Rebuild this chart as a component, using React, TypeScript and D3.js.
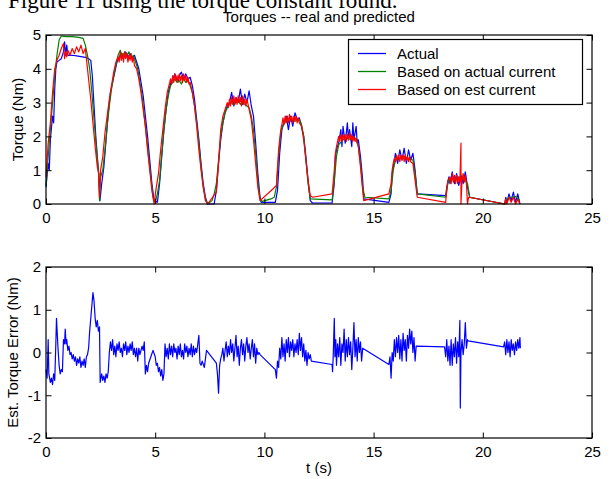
import { useEffect, useRef } from "react";
import * as d3 from "d3";

const FONT = "'Liberation Sans', Arial, Helvetica, sans-serif";

// tick labels
const tickT = [0, 5, 10, 15, 20, 25];
const tickTorque = [0, 1, 2, 3, 4, 5];
const tickErr = [-2, -1, 0, 1, 2];

const legendLabels = ["Actual", "Based on actual current", "Based on est current"];
const seriesColors = ["#0000ff", "#008000", "#ff0000"];

// [t (s), torque (Nm)]
const actual = [
  [0.0, 0.5], [0.1, 1.2], [0.15, 1.0], [0.2, 1.9], [0.3, 2.6], [0.35, 2.4], [0.4, 3.4], [0.45, 4.0], [0.5, 4.2],
  [0.6, 4.25], [0.7, 4.3], [0.8, 4.5], [0.85, 4.8], [0.9, 4.4], [0.95, 4.7], [1.0, 4.4], [1.2, 4.4], [1.4, 4.38],
  [1.6, 4.36], [1.8, 4.34], [1.95, 4.3], [2.05, 4.25], [2.12, 3.8], [2.2, 2.9], [2.28, 2.0], [2.35, 1.4], [2.42, 0.8],
  [2.47, 0.1], [2.55, 0.6], [2.65, 1.1], [2.75, 1.9], [2.85, 2.7], [2.95, 3.3], [3.05, 3.6], [3.15, 3.9], [3.25, 4.2],
  [3.35, 4.35], [3.45, 4.45], [3.55, 4.3], [3.65, 4.5], [3.75, 4.35], [3.85, 4.45], [3.95, 4.3], [4.05, 4.4],
  [4.15, 4.2], [4.25, 4.0], [4.35, 3.6], [4.45, 3.2], [4.55, 2.6], [4.65, 2.0], [4.75, 1.3], [4.85, 0.6], [4.95, 0.1],
  [5.1, 0.05], [5.2, 0.6], [5.3, 1.4], [5.4, 2.2], [5.5, 2.8], [5.6, 3.3], [5.7, 3.55], [5.8, 3.7], [5.9, 3.85],
  [6.0, 3.65], [6.1, 3.8], [6.2, 3.9], [6.3, 3.7], [6.4, 3.85], [6.5, 3.7], [6.6, 3.75], [6.7, 3.5], [6.8, 3.1],
  [6.9, 2.5], [7.0, 1.9], [7.1, 1.2], [7.2, 0.6], [7.3, 0.2], [7.4, 0.0], [7.7, 0.0], [7.8, 0.4], [7.9, 1.2],
  [8.0, 1.9], [8.1, 2.4], [8.2, 2.7], [8.3, 2.9], [8.4, 3.0], [8.5, 3.3], [8.6, 2.9], [8.7, 3.15], [8.8, 3.0],
  [8.9, 3.4], [9.0, 2.95], [9.1, 3.25], [9.2, 3.0], [9.3, 3.35], [9.4, 2.9], [9.5, 2.6], [9.6, 1.8], [9.7, 0.9],
  [9.8, 0.2], [9.85, 0.05], [10.5, 0.05], [10.6, 0.4], [10.7, 1.5], [10.8, 2.2], [10.9, 2.4], [11.0, 2.6],
  [11.1, 2.2], [11.2, 2.6], [11.3, 2.3], [11.4, 2.7], [11.5, 2.5], [11.6, 2.55], [11.7, 2.3], [11.8, 2.0],
  [11.9, 1.4], [12.0, 0.7], [12.1, 0.1], [12.2, 0.03], [13.1, 0.03], [13.2, 0.6], [13.25, 1.4], [13.3, 1.6],
  [13.4, 1.8], [13.5, 2.2], [13.55, 1.7], [13.6, 2.3], [13.7, 1.8], [13.8, 2.4], [13.85, 1.9], [13.9, 2.2],
  [14.0, 1.7], [14.05, 2.4], [14.1, 1.9], [14.2, 2.3], [14.25, 1.8], [14.3, 1.9], [14.4, 1.4], [14.5, 0.7],
  [14.55, 0.15], [15.7, 0.05], [15.8, 0.3], [15.85, 0.9], [15.9, 1.1], [16.0, 1.5], [16.1, 1.2], [16.2, 1.6],
  [16.3, 1.3], [16.4, 1.65], [16.5, 1.2], [16.6, 1.6], [16.7, 1.3], [16.8, 1.5], [16.9, 1.0], [17.0, 0.3],
  [18.3, 0.25], [18.35, 0.5], [18.45, 0.8], [18.5, 0.6], [18.6, 0.95], [18.7, 0.6], [18.8, 0.9], [18.9, 0.55],
  [19.0, 0.85], [19.1, 0.6], [19.2, 0.95], [19.3, 0.5], [19.4, 0.2], [21.0, 0.0], [21.05, 0.2], [21.1, 0.05],
  [21.2, 0.3], [21.3, 0.1], [21.4, 0.35], [21.5, 0.05], [21.6, 0.3], [21.7, 0.0],
];

const basedOnActual = [
  [0.0, 0.55], [0.1, 1.4], [0.2, 2.2], [0.3, 3.0], [0.4, 3.8], [0.5, 4.4], [0.6, 4.85], [0.7, 4.97], [0.9, 4.95],
  [1.2, 4.95], [1.5, 4.93], [1.7, 4.9], [1.8, 4.7], [1.9, 4.4], [2.0, 4.0], [2.1, 3.3], [2.2, 2.5], [2.3, 1.7],
  [2.4, 1.0], [2.45, 0.1], [2.5, 0.8], [2.6, 1.0], [2.7, 1.6], [2.8, 2.3], [2.9, 2.9], [3.0, 3.4], [3.1, 3.8],
  [3.2, 4.1], [3.3, 4.4], [3.4, 4.55], [3.5, 4.35], [3.6, 4.5], [3.7, 4.4], [3.8, 4.5], [3.9, 4.3], [4.0, 4.4],
  [4.1, 4.2], [4.2, 4.0], [4.3, 3.6], [4.4, 3.2], [4.5, 2.6], [4.6, 2.0], [4.7, 1.4], [4.8, 0.8], [4.9, 0.2],
  [5.0, 0.05], [5.1, 0.3], [5.2, 0.7], [5.3, 1.5], [5.4, 2.2], [5.5, 2.8], [5.6, 3.2], [5.7, 3.5], [5.8, 3.6],
  [5.9, 3.7], [6.0, 3.6], [6.1, 3.65], [6.2, 3.55], [6.3, 3.7], [6.4, 3.6], [6.5, 3.65], [6.6, 3.5], [6.7, 3.3],
  [6.8, 2.9], [6.9, 2.4], [7.0, 1.8], [7.1, 1.1], [7.2, 0.5], [7.3, 0.15], [7.4, 0.0], [7.6, 0.1], [7.7, 0.3],
  [7.8, 0.6], [7.9, 1.3], [8.0, 2.0], [8.1, 2.4], [8.2, 2.7], [8.3, 2.85], [8.4, 2.95], [8.5, 3.0], [8.6, 2.95],
  [8.7, 3.0], [8.8, 3.05], [8.9, 2.95], [9.0, 3.0], [9.1, 2.95], [9.2, 2.9], [9.3, 2.85], [9.4, 2.6], [9.5, 2.2],
  [9.6, 1.5], [9.7, 0.7], [9.8, 0.15], [9.9, 0.08], [10.3, 0.15], [10.45, 0.2], [10.55, 0.5], [10.65, 1.4],
  [10.75, 2.1], [10.85, 2.35], [11.0, 2.45], [11.2, 2.5], [11.4, 2.45], [11.6, 2.5], [11.7, 2.35], [11.8, 2.0],
  [11.9, 1.3], [12.0, 0.6], [12.1, 0.15], [13.1, 0.12], [13.2, 0.7], [13.3, 1.4], [13.4, 1.75], [13.6, 1.9],
  [13.8, 1.95], [14.0, 1.9], [14.2, 1.95], [14.3, 1.7], [14.4, 1.2], [14.5, 0.5], [14.6, 0.2], [15.7, 0.15],
  [15.8, 0.4], [15.9, 1.0], [16.0, 1.3], [16.2, 1.35], [16.4, 1.4], [16.6, 1.35], [16.8, 1.3], [16.9, 0.9],
  [17.0, 0.3], [18.3, 0.2], [18.4, 0.6], [18.5, 0.75], [18.7, 0.7], [18.9, 0.8], [19.1, 0.75], [19.3, 0.6],
  [19.4, 0.2], [21.0, 0.0], [21.1, 0.15], [21.3, 0.2], [21.5, 0.22], [21.7, 0.1],
];

const basedOnEst = [
  [0.0, 0.8], [0.1, 1.8], [0.2, 2.4], [0.3, 3.3], [0.4, 4.0], [0.5, 4.25], [0.6, 4.4], [0.7, 4.6], [0.8, 4.75],
  [0.85, 4.3], [0.9, 4.5], [0.95, 4.35], [1.0, 4.55], [1.1, 4.4], [1.2, 4.6], [1.3, 4.45], [1.4, 4.65], [1.5, 4.5],
  [1.6, 4.7], [1.7, 4.45], [1.8, 4.6], [1.85, 4.3], [1.95, 3.7], [2.05, 3.1], [2.15, 2.4], [2.25, 1.7], [2.35, 1.1],
  [2.42, 0.9], [2.45, 0.2], [2.5, 1.0], [2.6, 1.4], [2.7, 2.1], [2.8, 2.6], [2.9, 3.1], [3.0, 3.5], [3.1, 3.9],
  [3.2, 4.2], [3.3, 4.35], [3.35, 4.2], [3.4, 4.5], [3.45, 4.25], [3.5, 4.45], [3.55, 4.2], [3.6, 4.5],
  [3.65, 4.3], [3.7, 4.45], [3.75, 4.2], [3.8, 4.4], [3.85, 4.25], [3.9, 4.45], [3.95, 4.2], [4.0, 4.35],
  [4.05, 4.1], [4.15, 4.0], [4.25, 3.7], [4.35, 3.3], [4.45, 2.8], [4.55, 2.3], [4.65, 1.6], [4.75, 1.0],
  [4.85, 0.4], [4.95, 0.0], [5.05, 0.5], [5.15, 0.9], [5.25, 1.6], [5.35, 2.2], [5.45, 2.8], [5.55, 3.3],
  [5.65, 3.55], [5.7, 3.7], [5.75, 3.55], [5.8, 3.8], [5.85, 3.6], [5.9, 3.85], [5.95, 3.65], [6.0, 3.8],
  [6.05, 3.6], [6.1, 3.85], [6.15, 3.65], [6.2, 3.8], [6.25, 3.6], [6.3, 3.85], [6.35, 3.65], [6.4, 3.8],
  [6.45, 3.6], [6.5, 3.75], [6.55, 3.55], [6.6, 3.6], [6.7, 3.3], [6.8, 2.9], [6.9, 2.3], [7.0, 1.6], [7.1, 1.0],
  [7.2, 0.5], [7.3, 0.1], [7.4, 0.0], [7.8, 0.35], [7.9, 1.2], [8.0, 2.2], [8.1, 2.6], [8.2, 2.8], [8.3, 3.0],
  [8.35, 2.85], [8.4, 3.1], [8.45, 2.9], [8.5, 3.15], [8.55, 2.95], [8.6, 3.2], [8.65, 2.95], [8.7, 3.15],
  [8.75, 2.95], [8.8, 3.2], [8.85, 3.0], [8.9, 3.15], [8.95, 2.9], [9.0, 3.2], [9.05, 2.95], [9.1, 3.1],
  [9.15, 2.9], [9.2, 3.1], [9.3, 2.8], [9.4, 2.5], [9.5, 1.9], [9.6, 1.2], [9.7, 0.5], [9.8, 0.1], [10.4, 0.45],
  [10.55, 0.55], [10.65, 1.6], [10.75, 2.2], [10.8, 2.35], [10.85, 2.55], [10.9, 2.35], [10.95, 2.6], [11.0, 2.4],
  [11.05, 2.6], [11.1, 2.4], [11.15, 2.65], [11.2, 2.45], [11.25, 2.6], [11.3, 2.4], [11.35, 2.6], [11.4, 2.45],
  [11.45, 2.6], [11.5, 2.4], [11.55, 2.55], [11.6, 2.4], [11.7, 2.3], [11.8, 1.9], [11.9, 1.3], [12.0, 0.7],
  [12.1, 0.25], [12.2, 0.2], [13.1, 0.3], [13.2, 1.0], [13.25, 1.5], [13.3, 1.7], [13.35, 1.85], [13.4, 2.0],
  [13.45, 1.85], [13.5, 2.05], [13.55, 1.85], [13.6, 2.05], [13.65, 1.9], [13.7, 2.05], [13.75, 1.85],
  [13.8, 2.05], [13.85, 1.9], [13.9, 2.1], [13.95, 1.9], [14.0, 2.05], [14.05, 1.85], [14.1, 2.0], [14.15, 1.85],
  [14.2, 1.95], [14.3, 1.7], [14.4, 1.1], [14.5, 0.4], [14.55, 0.1], [15.7, 0.3], [15.8, 0.6], [15.85, 1.0],
  [15.9, 1.2], [15.95, 1.35], [16.0, 1.25], [16.05, 1.45], [16.1, 1.3], [16.15, 1.45], [16.2, 1.25], [16.25, 1.45],
  [16.3, 1.3], [16.35, 1.45], [16.4, 1.25], [16.45, 1.45], [16.5, 1.3], [16.55, 1.4], [16.6, 1.25], [16.65, 1.4],
  [16.7, 1.25], [16.8, 1.2], [16.9, 0.7], [17.0, 0.2], [18.3, 0.05], [18.35, 0.4], [18.4, 0.7], [18.5, 0.8],
  [18.55, 0.6], [18.6, 0.9], [18.65, 0.65], [18.7, 0.85], [18.75, 0.6], [18.8, 0.85], [18.85, 0.6], [18.9, 0.8],
  [18.95, 0.65], [19.0, 1.8], [19.0, 0.0], [19.05, 0.7], [19.1, 0.9], [19.15, 0.65], [19.2, 0.85], [19.25, 0.6],
  [19.3, 0.0], [19.35, 0.2], [21.0, 0.0], [21.05, 0.15], [21.1, 0.0], [21.2, 0.2], [21.3, 0.05], [21.4, 0.2],
  [21.5, 0.0], [21.6, 0.15], [21.7, 0.0],
];

// [t (s), estimated torque error (Nm)]
const estError = [
  [0.0, -0.4], [0.05, -0.6], [0.1, 0.3], [0.13, -0.5], [0.2, -0.7], [0.25, -0.6], [0.3, -0.75], [0.35, -0.5],
  [0.4, -0.65], [0.45, 0.2], [0.48, 0.8], [0.52, 0.4], [0.55, 0.1], [0.6, -0.3], [0.65, -0.5], [0.7, -0.4],
  [0.75, -0.45], [0.8, 0.3], [0.85, 0.2], [0.88, 0.55], [0.92, 0.2], [0.95, 0.3], [1.0, 0.05], [1.05, 0.15],
  [1.1, -0.05], [1.15, 0.0], [1.2, -0.15], [1.25, -0.05], [1.3, -0.2], [1.35, -0.1], [1.4, -0.3], [1.45, -0.15],
  [1.5, -0.25], [1.55, -0.1], [1.6, -0.35], [1.65, -0.2], [1.7, -0.3], [1.75, -0.15], [1.8, -0.35], [1.85, -0.1],
  [1.9, -0.05], [1.95, 0.1], [2.0, 0.5], [2.05, 0.8], [2.1, 1.1], [2.15, 1.4], [2.2, 1.2], [2.25, 0.8], [2.3, 0.6],
  [2.35, 0.75], [2.4, 0.5], [2.45, 0.6], [2.48, -0.7], [2.55, -0.5], [2.6, -0.65], [2.65, -0.55], [2.7, -0.7],
  [2.75, -0.5], [2.8, -0.6], [2.85, -0.45], [2.9, 0.0], [2.95, 0.25], [3.0, 0.05], [3.05, 0.3], [3.1, -0.05],
  [3.15, 0.15], [3.2, -0.1], [3.25, 0.2], [3.3, 0.05], [3.35, 0.25], [3.4, 0.0], [3.45, 0.1], [3.5, -0.1],
  [3.55, 0.2], [3.6, 0.05], [3.65, 0.25], [3.7, -0.05], [3.75, 0.15], [3.8, 0.0], [3.85, 0.2], [3.9, 0.05],
  [3.95, 0.25], [4.0, -0.05], [4.05, 0.1], [4.1, -0.1], [4.15, 0.1], [4.2, -0.2], [4.25, 0.1], [4.3, -0.05],
  [4.4, 0.15], [4.45, 0.05], [4.5, 0.25], [4.55, -0.5], [4.6, -0.3], [4.65, -0.45], [4.7, -0.25], [4.8, -0.1],
  [4.9, 0.05], [5.0, -0.1], [5.05, -0.3], [5.1, -0.25], [5.15, -0.45], [5.2, -0.35], [5.25, -0.55], [5.3, -0.4],
  [5.35, -0.65], [5.4, -0.5], [5.45, 0.2], [5.5, -0.1], [5.55, 0.1], [5.6, -0.15], [5.65, 0.2], [5.7, -0.05],
  [5.75, 0.15], [5.8, -0.1], [5.85, 0.2], [5.9, 0.0], [5.95, 0.1], [6.0, -0.15], [6.05, 0.15], [6.1, -0.05],
  [6.15, 0.2], [6.2, -0.1], [6.25, 0.05], [6.3, -0.15], [6.35, 0.2], [6.4, 0.0], [6.45, 0.15], [6.5, -0.1],
  [6.55, 0.1], [6.6, -0.05], [6.65, 0.2], [6.7, -0.1], [6.75, 0.15], [6.8, -0.05], [6.85, 0.1], [6.9, 0.0],
  [6.95, 0.2], [7.0, 0.4], [7.05, -0.25], [7.1, -0.3], [7.15, -0.2], [7.25, -0.35], [7.3, -0.15], [7.35, 0.05],
  [7.8, -0.25], [7.85, -0.5], [7.9, -0.95], [7.95, -0.3], [8.0, -0.15], [8.05, -0.05], [8.1, 0.1], [8.15, -0.2],
  [8.2, 0.05], [8.25, 0.25], [8.3, -0.1], [8.35, 0.15], [8.4, -0.05], [8.45, 0.3], [8.5, 0.0], [8.55, 0.2],
  [8.6, -0.2], [8.65, 0.1], [8.7, 0.4], [8.75, -0.1], [8.8, 0.15], [8.85, -0.3], [8.9, 0.1], [8.95, 0.3],
  [9.0, -0.05], [9.05, 0.2], [9.1, -0.2], [9.15, 0.15], [9.2, 0.35], [9.25, 0.0], [9.3, 0.2], [9.35, -0.15],
  [9.4, 0.1], [9.45, 0.3], [9.5, -0.1], [9.55, 0.2], [9.6, -0.25], [9.65, 0.1], [9.7, -0.05], [9.75, 0.0],
  [9.8, -0.05], [10.5, -0.4], [10.55, -0.6], [10.6, -0.2], [10.65, -0.35], [10.7, 0.1], [10.75, -0.15],
  [10.8, 0.35], [10.85, -0.1], [10.9, 0.2], [10.95, -0.2], [11.0, 0.3], [11.05, 0.0], [11.1, 0.35], [11.15, -0.1],
  [11.2, 0.25], [11.25, 0.05], [11.3, 0.3], [11.35, -0.1], [11.4, 0.2], [11.45, 0.0], [11.5, 0.3], [11.55, -0.05],
  [11.6, 0.45], [11.65, 0.05], [11.7, 0.35], [11.75, -0.1], [11.8, 0.2], [11.85, -0.2], [11.9, 0.05],
  [11.95, -0.3], [12.0, 0.0], [12.05, -0.15], [12.1, -0.05], [12.15, -0.2], [13.1, -0.28], [13.12, -0.45],
  [13.15, -0.1], [13.2, 0.8], [13.23, -0.1], [13.27, 0.3], [13.3, -0.3], [13.35, 0.2], [13.4, -0.1], [13.45, 0.35],
  [13.5, -0.3], [13.55, 0.2], [13.6, 0.0], [13.65, 0.55], [13.7, -0.2], [13.75, 0.3], [13.8, -0.1], [13.85, 0.35],
  [13.9, -0.05], [13.95, 0.25], [14.0, -0.4], [14.05, 0.1], [14.1, 0.7], [14.15, -0.1], [14.2, 0.3], [14.25, -0.2],
  [14.3, 0.35], [14.35, 0.0], [14.4, 0.25], [14.45, -0.2], [14.5, 0.1], [15.7, -0.28], [15.75, -0.1], [15.8, -0.6],
  [15.85, 0.0], [15.9, -0.2], [15.95, 0.3], [16.0, -0.1], [16.05, 0.35], [16.1, 0.0], [16.15, 0.4], [16.2, -0.15],
  [16.25, 0.3], [16.3, -0.2], [16.35, 0.45], [16.4, 0.05], [16.45, 0.3], [16.5, -0.2], [16.55, 0.4], [16.6, 0.1],
  [16.65, 0.55], [16.7, 0.2], [16.75, 0.5], [16.8, 0.0], [16.85, 0.35], [16.9, -0.2], [16.95, 0.15], [18.25, 0.13],
  [18.3, -0.1], [18.35, 0.3], [18.4, -0.2], [18.45, 0.15], [18.5, -0.3], [18.55, 0.3], [18.6, -0.3], [18.65, 0.2],
  [18.7, -0.1], [18.75, 0.35], [18.8, -0.25], [18.85, 0.25], [18.9, -0.1], [18.95, 0.75], [18.97, -1.3],
  [19.0, 0.0], [19.05, 0.3], [19.1, -0.05], [19.15, 0.2], [19.2, 0.7], [19.25, 0.1], [19.3, 0.3], [19.33, 0.27],
  [20.95, 0.13], [21.0, 0.25], [21.05, -0.05], [21.1, 0.3], [21.15, 0.0], [21.2, 0.25], [21.25, -0.1], [21.3, 0.3],
  [21.35, 0.05], [21.4, 0.2], [21.45, -0.05], [21.5, 0.25], [21.55, 0.05], [21.6, 0.3], [21.65, 0.1], [21.7, 0.35],
  [21.72, 0.1],
];

const W = 613;
const H = 479;
const left = 46;
const right = 592;
const top1 = { y0: 35, y1: 204 };
const bot1 = { y0: 267, y1: 438 };
const TICK = 5.5;

const App = () => {
  const svgRef = useRef(null);

  useEffect(() => {
    const svg = d3.select(svgRef.current);
    svg.selectAll("*").remove();

    const x = d3.scaleLinear().domain([0, 25]).range([left, right]);
    const yTop = d3.scaleLinear().domain([0, 5]).range([top1.y1, top1.y0]);
    const yBot = d3.scaleLinear().domain([-2, 2]).range([bot1.y1, bot1.y0]);

    // caption fragment cut off at the top of the page
    svg.append("text")
      .attr("x", 8)
      .attr("y", 8)
      .attr("font-family", "'Liberation Serif', 'Times New Roman', serif")
      .attr("font-size", 23)
      .text("Figure 11 using the torque constant found.");

    const drawAxes = (y, ticks, box) => {
      const g = svg.append("g").attr("font-family", FONT).attr("font-size", 15);
      const fmt = (d) => String(d);
      g.append("g")
        .attr("transform", `translate(0,${box.y1})`)
        .call(d3.axisBottom(x).tickValues(tickT).tickSize(-TICK).tickPadding(8).tickFormat(fmt));
      g.append("g")
        .attr("transform", `translate(0,${box.y0})`)
        .call(d3.axisTop(x).tickValues(tickT).tickSize(-TICK).tickFormat(() => ""));
      g.append("g")
        .attr("transform", `translate(${left},0)`)
        .call(d3.axisLeft(y).tickValues(ticks).tickSize(-TICK).tickPadding(5).tickFormat(fmt));
      g.append("g")
        .attr("transform", `translate(${right},0)`)
        .call(d3.axisRight(y).tickValues(ticks).tickSize(-TICK).tickFormat(() => ""));
      g.selectAll(".domain").remove();
      g.selectAll("g").attr("font-family", FONT).attr("font-size", 15);
      g.selectAll(".tick line").attr("stroke", "#000");
      g.selectAll(".tick text").attr("fill", "#000");
      g.append("rect")
        .attr("x", left)
        .attr("y", box.y0)
        .attr("width", right - left)
        .attr("height", box.y1 - box.y0)
        .attr("fill", "none")
        .attr("stroke", "#000")
        .attr("stroke-width", 1.2);
    };

    // ---- top panel
    const lineTop = d3.line().x((d) => x(d[0])).y((d) => yTop(d[1]));
    [actual, basedOnActual, basedOnEst].forEach((s, i) => {
      svg.append("path")
        .attr("d", lineTop(s))
        .attr("fill", "none")
        .attr("stroke", seriesColors[i])
        .attr("stroke-width", 1.2)
        .attr("stroke-linejoin", "round");
    });
    drawAxes(yTop, tickTorque, top1);

    svg.append("text")
      .attr("x", (left + right) / 2)
      .attr("y", 22)
      .attr("text-anchor", "middle")
      .attr("font-family", FONT)
      .attr("font-size", 15)
      .text("Torques -- real and predicted");

    svg.append("text")
      .attr("transform", `translate(23,${(top1.y0 + top1.y1) / 2}) rotate(-90)`)
      .attr("text-anchor", "middle")
      .attr("font-family", FONT)
      .attr("font-size", 15)
      .text("Torque (Nm)");

    // legend
    const lg = svg.append("g").attr("font-family", FONT).attr("font-size", 15);
    lg.append("rect")
      .attr("x", 348.5)
      .attr("y", 39.5)
      .attr("width", 234)
      .attr("height", 65)
      .attr("fill", "#fff")
      .attr("stroke", "#000")
      .attr("stroke-width", 1.2);
    legendLabels.forEach((label, i) => {
      const cy = 53.5 + i * 18;
      lg.append("line")
        .attr("x1", 358).attr("x2", 386)
        .attr("y1", cy).attr("y2", cy)
        .attr("stroke", seriesColors[i])
        .attr("stroke-width", 1.3);
      lg.append("text").attr("x", 397).attr("y", cy + 5.5).attr("fill", "#000").text(label);
    });

    // ---- bottom panel
    const lineBot = d3.line().x((d) => x(d[0])).y((d) => yBot(d[1]));
    svg.append("path")
      .attr("d", lineBot(estError))
      .attr("fill", "none")
      .attr("stroke", seriesColors[0])
      .attr("stroke-width", 1.2)
      .attr("stroke-linejoin", "round");
    drawAxes(yBot, tickErr, bot1);

    svg.append("text")
      .attr("transform", `translate(17.5,${(bot1.y0 + bot1.y1) / 2}) rotate(-90)`)
      .attr("text-anchor", "middle")
      .attr("font-family", FONT)
      .attr("font-size", 15)
      .text("Est. Torque Error (Nm)");

    svg.append("text")
      .attr("x", (left + right) / 2)
      .attr("y", 473)
      .attr("text-anchor", "middle")
      .attr("font-family", FONT)
      .attr("font-size", 15)
      .text("t (s)");
  }, []);

  return (
    <svg
      ref={svgRef}
      width={W}
      height={H}
      style={{ position: "absolute", left: 0, top: 0, background: "#fff" }}
    />
  );
};

export default App;
